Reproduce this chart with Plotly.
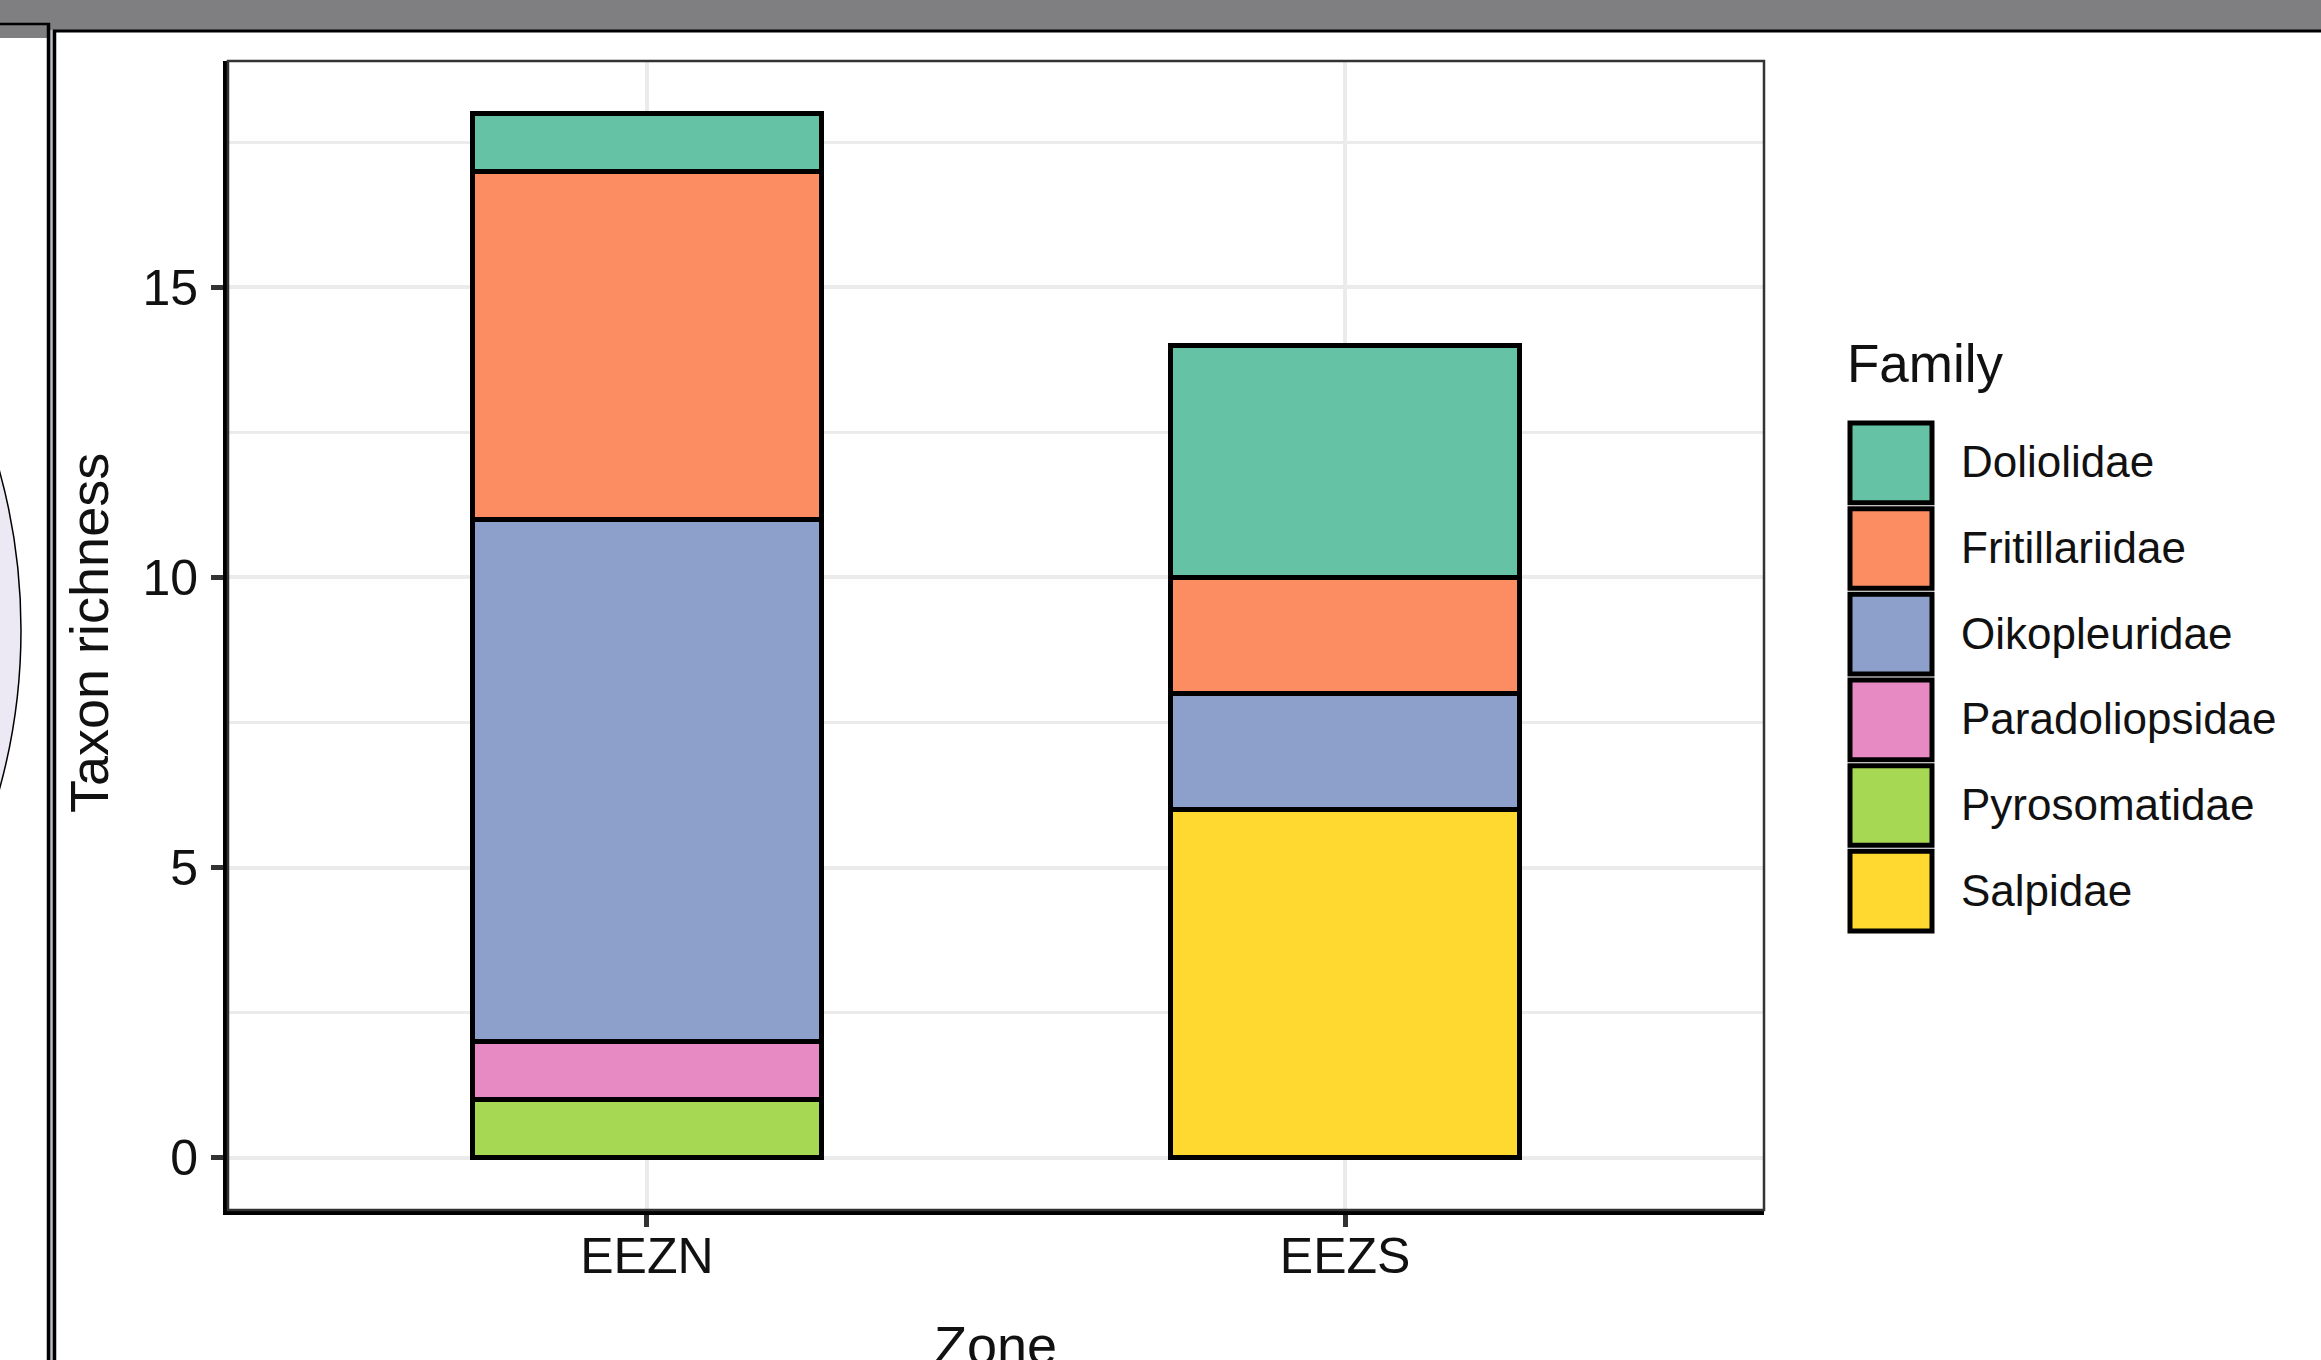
import plotly.graph_objects as go

# ---- data -------------------------------------------------------------
zones = ["EEZN", "EEZS"]
families = ["Doliolidae", "Fritillariidae", "Oikopleuridae",
            "Paradoliopsidae", "Pyrosomatidae", "Salpidae"]
doliolidae = [1, 4]
fritillariidae = [6, 2]
oikopleuridae = [9, 2]
paradoliopsidae = [1, 0]
pyrosomatidae = [1, 0]
salpidae = [0, 6]
family_colors = ["#66C2A5", "#FC8D62", "#8DA0CB", "#E78AC3", "#A6D854", "#FFD92F"]
y_ticks = [0, 5, 10, 15]
y_minor = [2.5, 7.5, 12.5, 17.5]

counts = [doliolidae, fritillariidae, oikopleuridae,
          paradoliopsidae, pyrosomatidae, salpidae]

# ---- page geometry (pixels) --------------------------------------------
W, H = 2321, 1360
L, R, T, B = 228, 1764, 61, 1210  # plot area edges


def px(x):
    return (x - L) / (R - L)


def py(y):
    return (B - y) / (B - T)


FONT = "Liberation Sans, Arial, Helvetica, sans-serif"
INK = "#111111"

fig = go.Figure()

# stacked bars: last family at the bottom, first family on top
for name, vals, col in reversed(list(zip(families, counts, family_colors))):
    fig.add_trace(go.Bar(
        x=zones,
        y=[v if v else None for v in vals],
        name=name,
        width=0.5,
        marker=dict(color=col, line=dict(color="black", width=5)),
        showlegend=False,
    ))

fig.update_layout(
    width=W, height=H,
    margin=dict(l=L, r=W - R, t=T, b=H - B, autoexpand=False),
    barmode="stack",
    plot_bgcolor="white",
    paper_bgcolor="white",
    font=dict(family=FONT, color=INK),
)

fig.update_xaxes(
    type="category", categoryorder="array", categoryarray=zones,
    range=[-0.6, 1.6],
    showgrid=True, gridcolor="#ebebeb", gridwidth=4,
    zeroline=False,
    showline=True, linecolor="black", linewidth=5,
    ticks="outside", ticklen=12, tickwidth=5, tickcolor="#333333",
    tickfont=dict(size=50, color=INK, family=FONT),
    ticklabelstandoff=-14,
)
fig.update_yaxes(
    range=[-0.9, 18.9],
    tickmode="array", tickvals=y_ticks, ticktext=[str(v) for v in y_ticks],
    showgrid=True, gridcolor="#ebebeb", gridwidth=4,
    minor=dict(tickvals=y_minor, showgrid=True, gridcolor="#ebebeb",
               gridwidth=2.5, ticks=""),
    zeroline=False,
    showline=True, linecolor="black", linewidth=5,
    ticks="outside", ticklen=12, tickwidth=5, tickcolor="#333333",
    tickfont=dict(size=50, color=INK, family=FONT),
    ticklabelstandoff=3,
)

shapes = []
annotations = []

# ---- surrounding window chrome -----------------------------------------
# lavender disc peeking in at the left edge
shapes.append(dict(type="circle", xref="paper", yref="paper",
                   x0=px(-1173), x1=px(21), y0=py(33), y1=py(1227),
                   fillcolor="#ece8f4", line=dict(color="black", width=1.5),
                   layer="above"))
# grey title strip
shapes.append(dict(type="rect", xref="paper", yref="paper",
                   x0=px(0), x1=px(W), y0=py(0), y1=py(30),
                   fillcolor="#7f7f81", line=dict(width=0), layer="above"))
shapes.append(dict(type="rect", xref="paper", yref="paper",
                   x0=px(0), x1=px(48), y0=py(24), y1=py(38),
                   fillcolor="#7f7f81", line=dict(width=0), layer="above"))
# back window frame
shapes.append(dict(type="line", xref="paper", yref="paper",
                   x0=px(0), x1=px(50), y0=py(24), y1=py(24),
                   line=dict(color="black", width=2.5), layer="above"))
shapes.append(dict(type="rect", xref="paper", yref="paper",
                   x0=px(50), x1=px(53), y0=py(30), y1=py(H),
                   fillcolor="#b8bcc0", line=dict(width=0), layer="above"))
shapes.append(dict(type="line", xref="paper", yref="paper",
                   x0=px(48.5), x1=px(48.5), y0=py(23), y1=py(H),
                   line=dict(color="black", width=3.5), layer="above"))
# front window frame
shapes.append(dict(type="line", xref="paper", yref="paper",
                   x0=px(54.5), x1=px(54.5), y0=py(30), y1=py(H),
                   line=dict(color="black", width=3.5), layer="above"))
shapes.append(dict(type="line", xref="paper", yref="paper",
                   x0=px(53), x1=px(W), y0=py(31), y1=py(31),
                   line=dict(color="black", width=3), layer="above"))

# ---- panel border (top / right) ----------------------------------------
shapes.append(dict(type="rect", xref="paper", yref="paper",
                   x0=0, x1=1, y0=0, y1=1,
                   line=dict(color="#333333", width=2.5), layer="above"))

# ---- axis titles -------------------------------------------------------
annotations.append(dict(text="Taxon richness", xref="paper", yref="paper",
                        x=px(89), y=py(633), xanchor="center", yanchor="middle",
                        textangle=-90, showarrow=False,
                        font=dict(size=54, color=INK, family=FONT)))
annotations.append(dict(text="Zone", xref="paper", yref="paper",
                        x=px(995), y=py(1313), xanchor="center", yanchor="top",
                        showarrow=False,
                        font=dict(size=54, color=INK, family=FONT)))

# ---- legend ------------------------------------------------------------
annotations.append(dict(text="Family", xref="paper", yref="paper",
                        x=px(1845), y=py(363), xanchor="left", yanchor="middle",
                        showarrow=False,
                        font=dict(size=53, color=INK, family=FONT)))
key_x0, key_x1 = 1850, 1932
key_top, key_h = 420, (934 - 420) / len(families)
for i, (name, col) in enumerate(zip(families, family_colors)):
    y0 = key_top + i * key_h
    shapes.append(dict(type="rect", xref="paper", yref="paper",
                       x0=px(key_x0), x1=px(key_x1),
                       y0=py(y0 + key_h - 3), y1=py(y0 + 3),
                       fillcolor=col, line=dict(color="black", width=5),
                       layer="above"))
    annotations.append(dict(text=name, xref="paper", yref="paper",
                            x=px(1959), y=py(y0 + key_h / 2 - 1),
                            xanchor="left", yanchor="middle", showarrow=False,
                            font=dict(size=44, color=INK, family=FONT)))

fig.update_layout(shapes=shapes, annotations=annotations)

fig.write_html("out.html")
